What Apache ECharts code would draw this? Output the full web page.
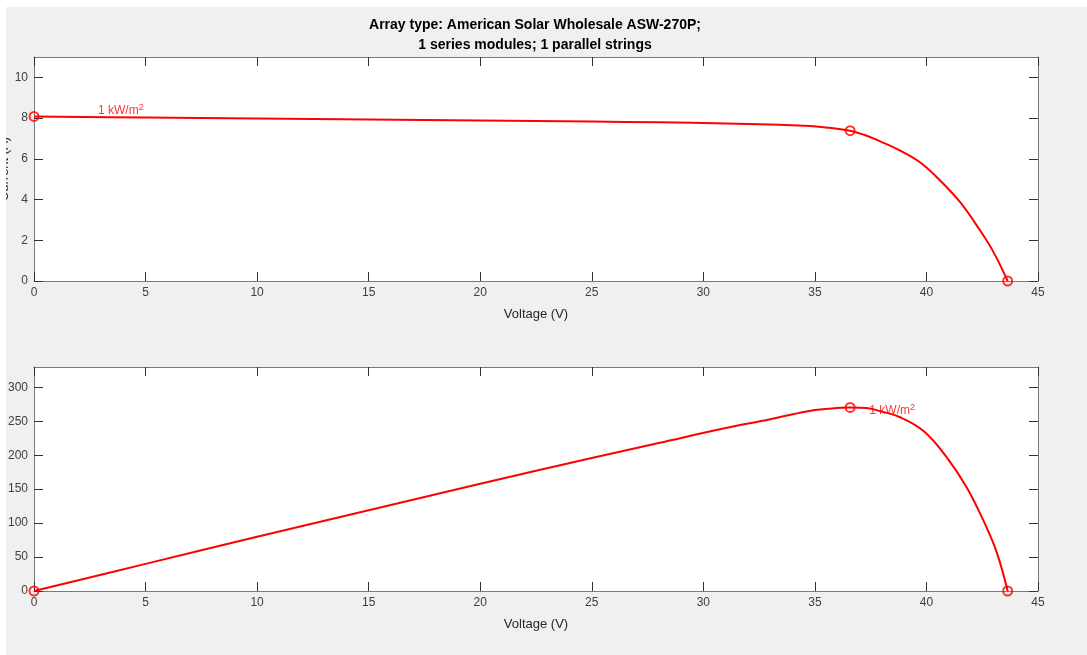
<!DOCTYPE html>
<html lang="en">
<head>
    <meta charset="UTF-8">
    <title>PV Array</title>
    <script type="text/javascript" src="https://cdn.jsdelivr.net/npm/echarts@6/dist/echarts.min.js"></script>
    <style>
        html, body { margin: 0; padding: 0; background: #fff; }
        #main { position: absolute; left: 6px; top: 7px; width: 1081px; height: 648px; background: #f0f0f0; }
    </style>
</head>
<body>
<div id="main"></div>

<script type="text/javascript">
    // I-V curve (voltage V, current A)
    var ivV = [0, 5, 10, 15, 20, 25, 28, 31, 33, 34.5, 35.5, 36.58, 37.2, 37.92, 38.8, 39.71, 40.61, 41.5, 42.4, 43.0, 43.64];
    var ivI = [8.08, 8.03, 7.98, 7.93, 7.88, 7.83, 7.79, 7.74, 7.68, 7.62, 7.54, 7.38, 7.18, 6.86, 6.42, 5.83, 4.94, 3.88, 2.49, 1.43, 0];
    // P-V curve (voltage V, power W)
    var pvV = [0, 5, 10, 15, 20, 25, 28, 31, 33, 34.63, 35.6, 36.58, 37.3, 37.92, 38.82, 39.86, 40.91, 41.8, 42.55, 43.15, 43.64];
    var pvP = [0, 40, 80, 119, 158, 196, 218, 240, 253, 264.6, 268.5, 270.5, 269.5, 265, 256, 236, 197, 153, 104, 57, 0];
    // marked points: Isc, MPP, Voc
    var markV = [0, 36.58, 43.64];
    var markI = [8.08, 7.38, 0];
    var markP = [0, 270.5, 0];
    // irradiance label anchors
    var ivLabel = [2.87, 8.34];
    var pvLabel = [37.44, 265];

    var xTicks = [0, 5, 10, 15, 20, 25, 30, 35, 40, 45];
    var iTicks = [0, 2, 4, 6, 8, 10];
    var pTicks = [0, 50, 100, 150, 200, 250, 300];

    var font = "'Liberation Sans', Arial, sans-serif";
    var red = '#ff0000';
    var lineCol = '#7a7a7a';

    function zip(a, b) {
        return a.map(function (v, i) { return [v, b[i]]; });
    }

    function xAx(grid, main, ticks) {
        return {
            type: 'value', gridIndex: grid, min: 0, max: 45,
            position: main ? 'bottom' : 'top',
            name: main ? 'Voltage (V)' : '',
            nameLocation: 'middle', nameGap: 27,
            nameTextStyle: { color: '#262626', fontSize: 13, fontFamily: font },
            axisLine: { onZero: false, lineStyle: { color: lineCol, width: 1 } },
            axisTick: { inside: true, length: 9, customValues: ticks, lineStyle: { color: '#333' } },
            axisLabel: { show: main, customValues: ticks, color: '#404040', fontSize: 12, fontFamily: font, margin: 6 },
            splitLine: { show: false }
        };
    }

    function yAx(grid, main, max, ticks, name) {
        return {
            type: 'value', gridIndex: grid, min: 0, max: max,
            position: main ? 'left' : 'right',
            name: main ? name : '',
            nameLocation: 'middle', nameGap: 23, nameMoveOverlap: false,
            nameTextStyle: { color: '#262626', fontSize: 13, fontFamily: font },
            axisLine: { onZero: false, lineStyle: { color: lineCol, width: 1 } },
            axisTick: { inside: true, length: 9, customValues: ticks, lineStyle: { color: '#333' } },
            axisLabel: { show: main, customValues: ticks, color: '#404040', fontSize: 12, fontFamily: font, margin: 6 },
            splitLine: { show: false }
        };
    }

    var labelRich = {
        sup: { fontSize: 9, color: red, fontFamily: font, verticalAlign: 'top', padding: [0, 0, 7, 0] }
    };

    function irrLabel(xi, yi, pos) {
        return {
            type: 'scatter', xAxisIndex: xi, yAxisIndex: yi,
            symbolSize: 0, silent: true, z: 5,
            data: [pos],
            label: {
                show: true, position: 'right', distance: 0,
                formatter: '1 kW/m{sup|2}',
                color: red, fontSize: 12, fontFamily: font, rich: labelRich
            }
        };
    }

    function curve(xi, yi, data) {
        return {
            type: 'line', xAxisIndex: xi, yAxisIndex: yi,
            data: data, showSymbol: false, smooth: 0.4,
            lineStyle: { color: red, width: 2 }, z: 3
        };
    }

    function marks(xi, yi, data) {
        return {
            type: 'scatter', xAxisIndex: xi, yAxisIndex: yi,
            data: data, symbol: 'circle', symbolSize: 9, z: 4,
            itemStyle: { color: 'rgba(0,0,0,0)', borderColor: red, borderWidth: 2 }
        };
    }

    var myChart = echarts.init(document.getElementById('main'));

    var option = {
        animation: false,
        title: {
            text: 'Array type: American Solar Wholesale ASW-270P;\n1 series modules; 1 parallel strings',
            left: 524, top: 3, textAlign: 'center',
            textStyle: { fontSize: 14, fontWeight: 'bold', color: '#000', fontFamily: font, lineHeight: 20 }
        },
        grid: [
            { left: 28, top: 50, width: 1004, height: 224, backgroundColor: '#fff', show: true, borderWidth: 0, outerBoundsMode: 'none' },
            { left: 28, top: 360, width: 1004, height: 224, backgroundColor: '#fff', show: true, borderWidth: 0, outerBoundsMode: 'none' }
        ],
        xAxis: [
            xAx(0, true, xTicks), xAx(0, false, xTicks),
            xAx(1, true, xTicks), xAx(1, false, xTicks)
        ],
        yAxis: [
            yAx(0, true, 11, iTicks, 'Current (A)'), yAx(0, false, 11, iTicks),
            yAx(1, true, 330, pTicks, ''), yAx(1, false, 330, pTicks)
        ],
        series: [
            curve(0, 0, zip(ivV, ivI)),
            marks(0, 0, zip(markV, markI)),
            irrLabel(0, 0, ivLabel),
            curve(2, 2, zip(pvV, pvP)),
            marks(2, 2, zip(markV, markP)),
            irrLabel(2, 2, pvLabel)
        ]
    };

    myChart.setOption(option);
</script>
</body>
</html>
